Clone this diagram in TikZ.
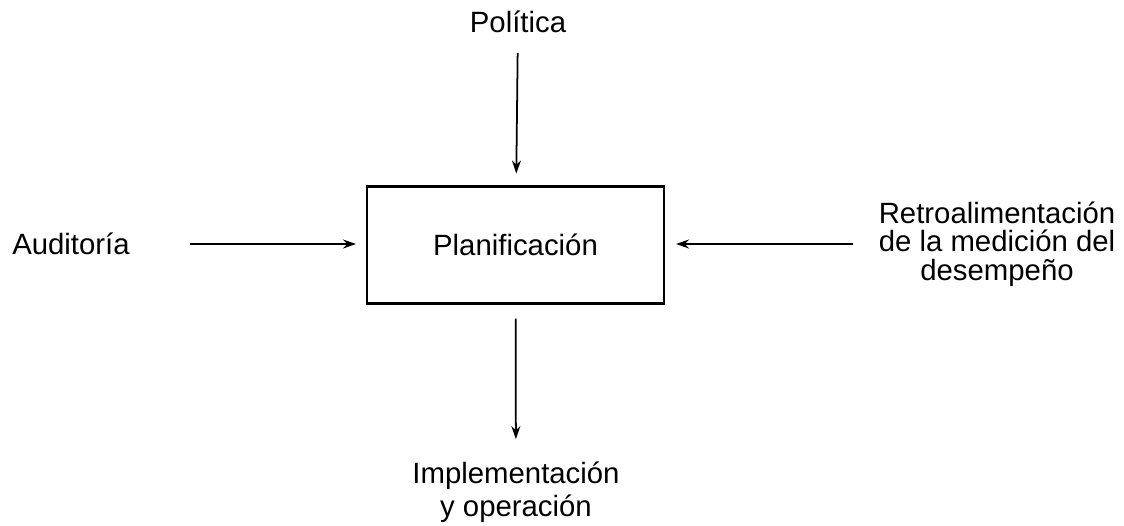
\documentclass[tikz,border=0pt]{standalone}
\usepackage{fontspec}
\setmainfont{Liberation Sans}
\usetikzlibrary{arrows.meta}
\begin{document}
\begin{tikzpicture}[x=0.02cm,y=0.02cm,
    texto/.style={inner sep=0pt,font=\fontsize{16.7}{16.2}\selectfont,align=center},
    caja/.style={draw=black,line width=1.2pt,minimum width=5.94cm,minimum height=2.34cm,inner sep=0pt,font=\fontsize{16.7}{16.2}\selectfont},
    flecha/.style={line width=1pt,-{Stealth[length=2.6mm,width=1.8mm]}}]
    \useasboundingbox (0,0) rectangle (1124,-525);
    \node[caja] (plan) at (515.5,-245) {Planificación};
    \node[texto] (pol) at (518,-22) {Política};
    \node[texto] (aud) at (71,-244) {Auditoría};
    \node[texto] (ret) at (997,-244) {Retroalimentación\\de la medición del\\desempeño};
    \node[texto,font=\fontsize{16.7}{18.5}\selectfont] (imp) at (516,-492) {Implementación\\y operación};
    \draw[flecha,shorten <=0.39cm,shorten >=0.24cm] (pol) -- (plan);
    \draw[flecha,shorten <=1.2cm,shorten >=0.2cm] (aud.east) -- (aud.east -| plan.west);
    \draw[flecha,shorten <=0.5cm,shorten >=0.22cm] (ret.west) -- (ret.west -| plan.east);
    \draw[flecha,shorten <=0.28cm,shorten >=0.45cm] (plan) -- (imp);
\end{tikzpicture}
\end{document}
